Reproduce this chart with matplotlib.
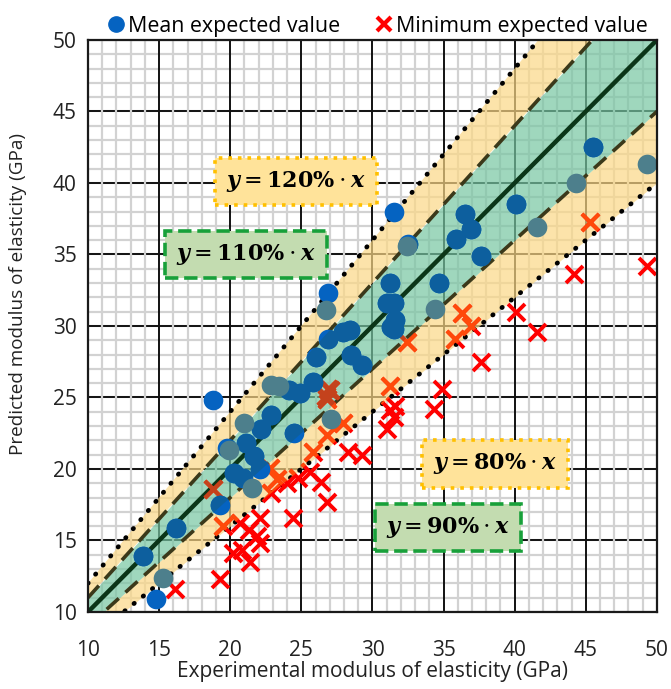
import numpy as np
import matplotlib
matplotlib.use('Agg')
import matplotlib.pyplot as plt
from matplotlib.lines import Line2D
from matplotlib.patches import Polygon

plt.rcParams['font.family'] = ['Open Sans', 'DejaVu Sans']
plt.rcParams['mathtext.fontset'] = 'dejavuserif'

# mean expected value (plain blue dots)
mean_x = [13.9, 14.8, 16.2, 19.3, 18.8, 20.3, 20.9, 22.1, 21.1, 21.7, 22.2, 22.9,
          24.5, 24.1, 24.9, 25.8, 26.0, 26.9, 27.9, 28.5, 29.3, 26.9, 31.3, 31.0,
          31.5, 31.2, 31.5, 31.6, 34.7, 35.9, 36.5, 36.9, 37.6, 40.1, 45.5, 31.5,
          19.8, 28.4, 32.5]
mean_y = [13.9, 10.9, 15.9, 17.5, 24.8, 19.7, 19.4, 20.0, 21.8, 20.9, 22.8, 23.8,
          22.5, 25.5, 25.3, 26.1, 27.8, 29.1, 29.6, 28.0, 27.3, 32.3, 29.9, 31.6,
          38.0, 33.0, 31.6, 30.4, 33.0, 36.1, 37.8, 36.8, 34.9, 38.5, 42.5, 29.8,
          21.5, 29.7, 35.7]
# mean expected value (the greyish dots)
mean_bx = [15.3, 19.9, 21.0, 21.5, 22.9, 23.4, 27.1, 26.7, 32.4, 34.4, 41.6, 44.3, 49.3]
mean_by = [12.4, 21.3, 23.2, 18.7, 25.9, 25.8, 23.5, 31.1, 35.6, 31.2, 36.9, 40.0, 41.3]

# minimum expected value
min_x = [16.1, 19.3, 18.8, 19.5, 20.2, 20.8, 21.4, 20.7, 21.3, 21.9, 22.1, 22.1,
         22.8, 22.9, 23.3, 24.0, 24.8, 25.6, 24.4, 25.8, 26.4, 26.8, 27.0, 26.8,
         26.8, 26.7, 26.9, 27.9, 28.3, 29.3, 31.0, 31.2, 31.5, 31.6, 31.2, 32.4,
         34.3, 34.9, 35.8, 36.9, 36.3, 37.6, 40.1, 41.6, 44.2, 45.3, 49.3]
min_y = [11.6, 12.3, 18.6, 16.0, 14.1, 14.3, 13.5, 16.2, 15.7, 15.3, 14.8, 16.6,
         20.1, 18.3, 19.3, 19.0, 19.4, 19.8, 16.6, 21.2, 19.1, 17.7, 25.5, 24.9,
         22.4, 25.1, 25.6, 23.2, 21.2, 21.0, 22.8, 24.1, 23.6, 24.4, 25.8, 28.9,
         24.2, 25.6, 29.1, 30.0, 30.9, 27.5, 31.0, 29.6, 33.6, 37.3, 34.2]

bounds = [0.8, 0.9, 1.0, 1.1, 1.2]
ticks = [10, 15, 20, 25, 30, 35, 40, 45, 50]

fig = plt.figure(figsize=(6.71, 6.89), dpi=100)
ax = fig.add_axes([0.1311, 0.1118, 0.8479, 0.8302])
ax.set_xlim(10, 50)
ax.set_ylim(10, 50)

# grid: horizontal majors get cut by the vertical minors, like the Excel original
for v in np.arange(10, 51, 1):
    ax.axhline(v, color='#d2d2d2', lw=1.6, zorder=0.1)
for v in ticks:
    ax.axhline(v, color='#111111', lw=1.4, zorder=0.2)
for v in np.arange(10, 51, 1):
    if v not in ticks:
        ax.axvline(v, color='#d2d2d2', lw=1.6, zorder=0.3)
for v in ticks:
    ax.axvline(v, color='#111111', lw=1.4, zorder=0.4)

xs = np.array([10, 50])


def band(lo, hi):
    pts = [(10, lo * 10), (60, lo * 60), (60, hi * 60), (10, hi * 10)]
    return Polygon(pts, closed=True, transform=ax.transData)


# bands (semi transparent so the grid shows through)
ax.fill_between(xs, bounds[0] * xs, bounds[1] * xs, color='#fcd886', alpha=0.7, lw=0, zorder=2)
ax.fill_between(xs, bounds[3] * xs, bounds[4] * xs, color='#fcd886', alpha=0.7, lw=0, zorder=2)
ax.fill_between(xs, bounds[1] * xs, bounds[3] * xs, color='#77c6a2', alpha=0.7, lw=0, zorder=2)

ax.plot(xs, bounds[0] * xs, color='black', lw=3.4, ls=(0, (0.1, 2.4)),
        dash_capstyle='round', zorder=3)
ax.plot(xs, bounds[4] * xs, color='black', lw=3.4, ls=(0, (0.1, 2.4)),
        dash_capstyle='round', zorder=3)
ax.plot(xs, bounds[1] * xs, color='#3b391a', lw=2.6, ls=(0, (4.5, 2.5)), zorder=3)
ax.plot(xs, bounds[3] * xs, color='#3b391a', lw=2.6, ls=(0, (4.5, 2.5)), zorder=3)
ax.plot(xs, bounds[2] * xs, color='#0b3518', lw=3.2, zorder=3)

# crosses: pure red outside, tinted where they sit inside the bands
cross = dict(s=150, marker='x', linewidths=2.8)
ax.scatter(min_x, min_y, color='#ff0000', zorder=4, **cross)
sc = ax.scatter(min_x, min_y, color='#ff4a0a', zorder=4.1, **cross)
sc.set_clip_path(band(bounds[0], bounds[4]))
sc = ax.scatter(min_x, min_y, color='#c4421c', zorder=4.2, **cross)
sc.set_clip_path(band(bounds[1], bounds[3]))

dot = dict(s=200, linewidths=0)
ax.scatter(mean_x, mean_y, color='#0563c1', zorder=5, **dot)
sc = ax.scatter(mean_x, mean_y, color='#0d5f9e', zorder=5.1, **dot)
sc.set_clip_path(band(bounds[1], bounds[3]))
ax.scatter(mean_bx, mean_by, color='#4d7f8c', zorder=5.2, **dot)


# equation boxes
def eq_box(x, y, pct, fc, ec, ls):
    txt = r'$\mathbfit{y} = \mathbf{' + pct + r'\%}\cdot\mathbfit{x}$'
    ax.text(x, y, txt, fontsize=16, ha='center', va='center', zorder=6,
            bbox=dict(boxstyle='square,pad=0.5', fc=fc, ec=ec, lw=2.6, ls=ls))


eq_box(24.6, 40.1, '120', '#ffe39a', '#ffc000', ':')
eq_box(21.1, 35.0, '110', '#c3dcb0', '#18a03a', '--')
eq_box(38.6, 20.35, '80', '#ffe39a', '#ffc000', ':')
eq_box(35.3, 15.9, '90', '#c3dcb0', '#18a03a', '--')

for sp in ax.spines.values():
    sp.set_color('#1a1a1a')
    sp.set_linewidth(1.6)
    sp.set_zorder(7)

ax.set_xticks(ticks)
ax.set_yticks(ticks)
ax.tick_params(length=0, labelsize=15, colors='#222222')
ax.tick_params(axis='x', pad=20)
ax.tick_params(axis='y', pad=8)
ax.set_xlabel('Experimental modulus of elasticity (GPa)', fontsize=15, color='#222222',
              labelpad=0)
ax.set_ylabel('Predicted modulus of elasticity (GPa)', fontsize=13.6, color='#222222')
ax.yaxis.set_label_coords(-0.107, 0.556)

handles = [Line2D([], [], marker='o', ls='', color='#0563c1', markersize=11),
           Line2D([], [], marker='x', ls='', color='#ff0000', markersize=10,
                  markeredgewidth=3)]
fig.legend(handles, ['Mean expected value', 'Minimum expected value'],
           loc='center', bbox_to_anchor=(0.559, 0.962), ncol=2, frameon=False,
           fontsize=15.4, handletextpad=-0.1, columnspacing=1.4, handlelength=1.3,
           borderpad=0)

fig.savefig('out.png', dpi=100)
